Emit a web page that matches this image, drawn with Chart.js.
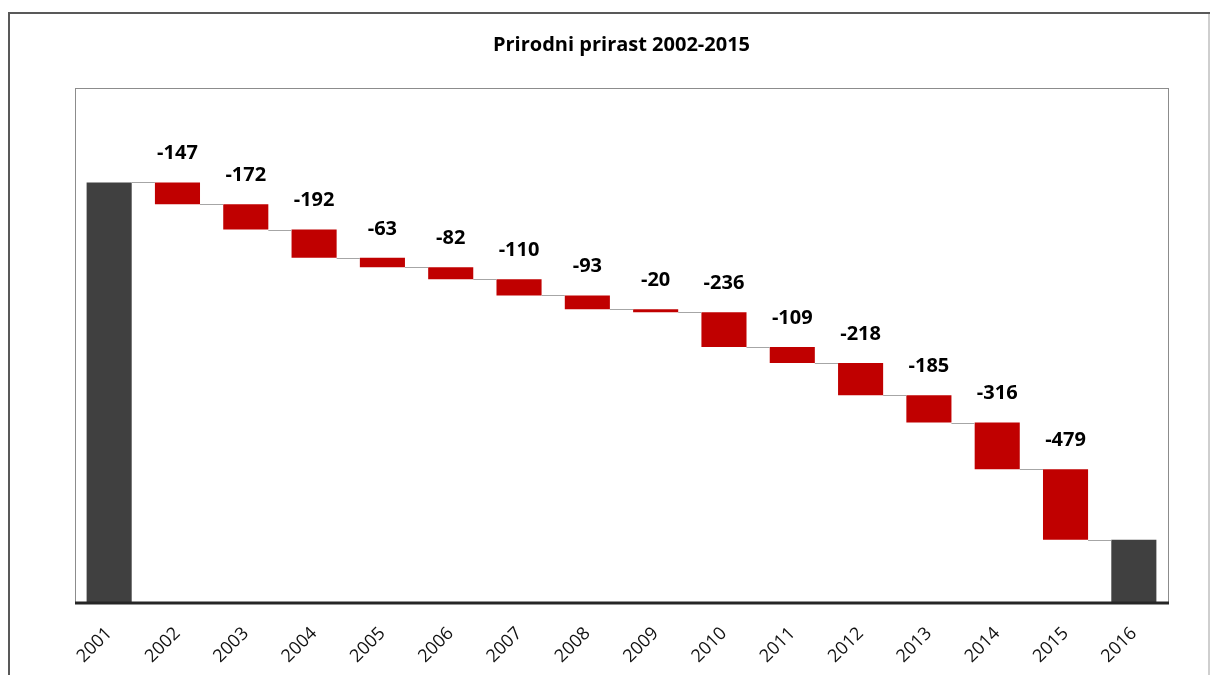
<!DOCTYPE html>
<html>
<head>
<meta charset="utf-8">
<title>Prirodni prirast 2002-2015</title>
<script src="https://cdn.jsdelivr.net/npm/chart.js@4.4.1/dist/chart.umd.min.js"></script>
<style>
  html, body { margin: 0; padding: 0; background: #fff; }
  #wrap { position: absolute; left: 0; top: 0; width: 1211px; height: 675px; }
</style>
</head>
<body>
<div id="wrap"><canvas id="waterfall"></canvas></div>
<script>
// podaci
const years = ["2001", "2002", "2003", "2004", "2005", "2006", "2007", "2008",
  "2009", "2010", "2011", "2012", "2013", "2014", "2015", "2016"];
const startValue = 2850;
const changes = [-147, -172, -192, -63, -82, -110, -93, -20, -236, -109, -218, -185, -316, -479];
const yMax = 3490;

const colors = {
  total: '#404040',
  drop: '#c00000',
  connector: '#a6a6a6',
  frame: '#595959',
  frameRight: '#cfcfcf',
  plotBorder: '#8c8c8c',
  axis: '#262626'
};

// razine nakon svake godine
const levels = [startValue];
changes.forEach(c => levels.push(levels[levels.length - 1] + c));
const endValue = levels[levels.length - 1];

const barData = [[0, startValue]];
changes.forEach((c, i) => barData.push([levels[i + 1], levels[i]]));
barData.push([0, endValue]);

const barColors = years.map((y, i) => (i === 0 || i === years.length - 1) ? colors.total : colors.drop);

// okviri, spojnice i oznake
const waterfallExtras = {
  id: 'waterfallExtras',
  beforeDraw(chart) {
    const ctx = chart.ctx;
    ctx.save();
    ctx.lineWidth = 2;
    ctx.strokeStyle = colors.frameRight;
    ctx.beginPath();
    ctx.moveTo(1209, 13);
    ctx.lineTo(1209, 675);
    ctx.stroke();
    ctx.strokeStyle = colors.frame;
    ctx.beginPath();
    ctx.moveTo(9, 675);
    ctx.lineTo(9, 13);
    ctx.lineTo(1210, 13);
    ctx.stroke();
    ctx.restore();
  },
  afterDatasetsDraw(chart) {
    const ctx = chart.ctx;
    const area = chart.chartArea;
    const yScale = chart.scales.y;
    const bars = chart.getDatasetMeta(0).data;

    ctx.save();
    // spojnice
    ctx.strokeStyle = colors.connector;
    ctx.lineWidth = 1;
    for (let i = 0; i < bars.length - 1; i++) {
      const lvl = i < levels.length ? levels[i] : endValue;
      const y = Math.round(yScale.getPixelForValue(lvl)) + 0.5;
      ctx.beginPath();
      ctx.moveTo(bars[i].x + bars[i].width / 2, y);
      ctx.lineTo(bars[i + 1].x - bars[i + 1].width / 2, y);
      ctx.stroke();
    }

    // okvir grafa
    ctx.strokeStyle = colors.plotBorder;
    ctx.lineWidth = 1;
    ctx.strokeRect(area.left + 0.5, area.top + 0.5, area.right - area.left, area.bottom - area.top);

    // os x
    ctx.strokeStyle = colors.axis;
    ctx.lineWidth = 3;
    ctx.beginPath();
    ctx.moveTo(area.left, area.bottom);
    ctx.lineTo(area.right + 1, area.bottom);
    ctx.stroke();

    // oznake vrijednosti
    ctx.fillStyle = '#000';
    ctx.font = 'bold 20px "Open Sans", sans-serif';
    ctx.textAlign = 'center';
    ctx.textBaseline = 'middle';
    changes.forEach((c, i) => {
      const bar = bars[i + 1];
      const top = yScale.getPixelForValue(levels[i]);
      ctx.fillText(String(c), bar.x, top - 29);
    });
    ctx.restore();
  }
};

new Chart(document.getElementById('waterfall'), {
  type: 'bar',
  data: {
    labels: years,
    datasets: [{
      data: barData,
      backgroundColor: barColors,
      borderWidth: 0,
      barPercentage: 0.66,
      categoryPercentage: 1.0
    }]
  },
  options: {
    responsive: true,
    maintainAspectRatio: false,
    animation: false,
    layout: {
      padding: { left: 75, right: 43, top: 0, bottom: 0 }
    },
    plugins: {
      legend: { display: false },
      tooltip: { enabled: false },
      title: {
        display: true,
        text: 'Prirodni prirast 2002-2015',
        color: '#000',
        font: { family: '"Open Sans", sans-serif', size: 20, weight: 'bold' },
        padding: { top: 33, bottom: 31 }
      }
    },
    scales: {
      x: {
        grid: { display: false, drawTicks: false },
        border: { display: false },
        ticks: {
          color: '#111',
          font: { family: '"Open Sans", sans-serif', size: 18 },
          minRotation: 45,
          maxRotation: 45,
          padding: 20
        },
        afterFit(scale) {
          scale.height = 72;
        }
      },
      y: {
        display: false,
        min: 0,
        max: yMax
      }
    }
  },
  plugins: [waterfallExtras]
});
</script>
</body>
</html>
